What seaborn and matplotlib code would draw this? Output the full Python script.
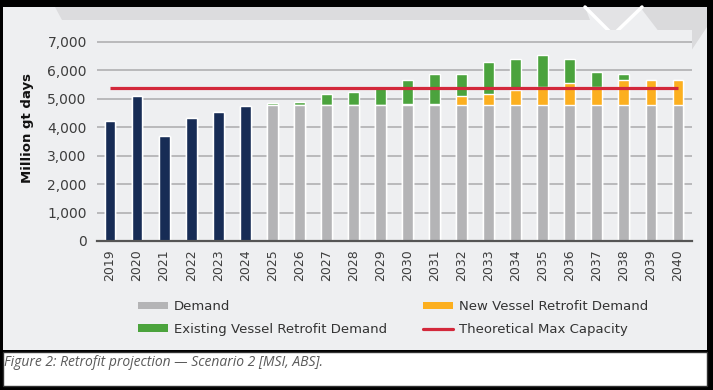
import pandas as pd
import seaborn as sns
import matplotlib.pyplot as plt
from matplotlib.patches import Patch, Rectangle, Polygon
from matplotlib.lines import Line2D

# ---- data ----
years = ['2019', '2020', '2021', '2022', '2023', '2024', '2025', '2026', '2027', '2028', '2029',
         '2030', '2031', '2032', '2033', '2034', '2035', '2036', '2037', '2038', '2039', '2040']
actual = [4230, 5100, 3680, 4320, 4530, 4740, 0, 0, 0, 0, 0,
          0, 0, 0, 0, 0, 0, 0, 0, 0, 0, 0]
demand = [0, 0, 0, 0, 0, 0, 4770, 4770, 4770, 4770, 4770,
          4770, 4770, 4770, 4770, 4770, 4770, 4770, 4770, 4770, 4770, 4770]
new_vessel = [0, 0, 0, 0, 0, 0, 0, 0, 0, 0, 0,
              50, 50, 310, 380, 520, 630, 780, 655, 890, 870, 870]
existing_vessel = [0, 0, 0, 0, 0, 0, 60, 110, 410, 480, 620,
                   840, 1050, 790, 1130, 1100, 1135, 845, 495, 205, 0, 0]
max_capacity = 5380
yticks = [0, 1000, 2000, 3000, 4000, 5000, 6000, 7000]
caption = 'Figure 2: Retrofit projection \u2014 Scenario 2 [MSI, ABS].'

navy = '#172c55'
grey = '#b4b4b6'
orange = '#fcaf1f'
green = '#4ba33d'
red = '#d3283b'
panel = '#eeeff1'

base = [a if a else d for a, d in zip(actual, demand)]
df = pd.DataFrame({'year': years, 'base': base})
df['with_new'] = df['base'] + new_vessel
df['total'] = df['with_new'] + existing_vessel
df['period'] = ['actual' if a else 'projection' for a in actual]

sns.set_theme(style='white')
plt.rcParams['font.family'] = ['DejaVu Sans']

W, H = 713, 390
fig = plt.figure(figsize=(W / 100, H / 100), dpi=100, facecolor='black')


def px(x, y):
    return (x / W, 1 - y / H)


# background panel, decoration and caption box
fig.add_artist(Rectangle(px(3, 350), 704 / W, 343 / H, transform=fig.transFigure,
                         facecolor=panel, edgecolor='none', zorder=0))
fig.add_artist(Polygon([px(55, 7), px(585, 7), px(590, 20), px(62, 20)], closed=True,
                       transform=fig.transFigure, facecolor='#dcdcde', edgecolor='none', zorder=0))
fig.add_artist(Polygon([px(585, 7), px(642, 7), px(613, 35)], closed=True,
                       transform=fig.transFigure, facecolor='#e3e3e5', edgecolor='none', zorder=0))
fig.add_artist(Polygon([px(640, 7), px(707, 7), px(707, 27), px(683, 63)], closed=True,
                       transform=fig.transFigure, facecolor='#dadadc', edgecolor='none', zorder=0))
fig.add_artist(Line2D([585 / W, 613 / W, 642 / W], [1 - 7 / H, 1 - 35 / H, 1 - 7 / H],
                      transform=fig.transFigure, color='white', lw=2.5, zorder=0))
fig.add_artist(Rectangle(px(3, 386), 704 / W, 34 / H, transform=fig.transFigure,
                         facecolor='white', edgecolor='#333333', lw=1, zorder=0))

ax = fig.add_axes([96.5 / W, 149 / H, 595 / W, 210.7 / H])
ax.set_facecolor(panel)

sns.barplot(data=df, x='year', y='total', color=green, width=0.4, saturation=1,
            errorbar=None, ax=ax)
sns.barplot(data=df, x='year', y='with_new', color=orange, width=0.4, saturation=1,
            errorbar=None, ax=ax)
sns.barplot(data=df, x='year', y='base', hue='period', palette={'actual': navy, 'projection': grey},
            width=0.4, saturation=1, dodge=False, errorbar=None, legend=False, ax=ax)
ax.hlines(max_capacity, 0, len(years) - 1, color=red, lw=2.3, zorder=5)

ax.set_xlim(-0.5, len(years) - 0.5)
ax.set_ylim(0, 7400)
ax.set_yticks(yticks)
ax.set_yticklabels(['{:,}'.format(v) for v in yticks])
ax.set_axisbelow(True)
ax.yaxis.grid(True, color='#b0b0b2', lw=1.2)
for s in ['top', 'right', 'left']:
    ax.spines[s].set_visible(False)
ax.spines['bottom'].set_color('#555555')
ax.spines['bottom'].set_linewidth(1.6)
ax.tick_params(axis='y', length=0, pad=7, labelsize=10, labelcolor='#3d3d3d')
ax.tick_params(axis='x', length=0, pad=6, labelsize=9, labelcolor='#3d3d3d', labelrotation=90)
ax.set_xlabel('')
ax.set_ylabel('Million gt days', fontsize=9.5, fontweight='bold', color='#111111')
ax.yaxis.set_label_coords(-0.105, 0.536)

leg_kw = dict(loc='upper left', frameon=False, fontsize=9.5, handlelength=2.3, handleheight=0.5,
              handletextpad=0.4, labelspacing=0.75, borderpad=0, borderaxespad=0,
              labelcolor='#333333')
fig.legend(handles=[Patch(facecolor=grey, edgecolor='none'), Patch(facecolor=green, edgecolor='none')],
           labels=['Demand', 'Existing Vessel Retrofit Demand'],
           bbox_to_anchor=px(138, 300), **leg_kw)
fig.legend(handles=[Patch(facecolor=orange, edgecolor='none'), Line2D([], [], color=red, lw=2.3)],
           labels=['New Vessel Retrofit Demand', 'Theoretical Max Capacity'],
           bbox_to_anchor=px(423, 300), **leg_kw)

fig.text(4 / W, 1 - 363 / H, caption, ha='left', va='center', style='italic', fontsize=10,
         color='#5a5a5a', family=['Open Sans', 'DejaVu Sans'])

fig.savefig('out.png', dpi=100, facecolor='black')
